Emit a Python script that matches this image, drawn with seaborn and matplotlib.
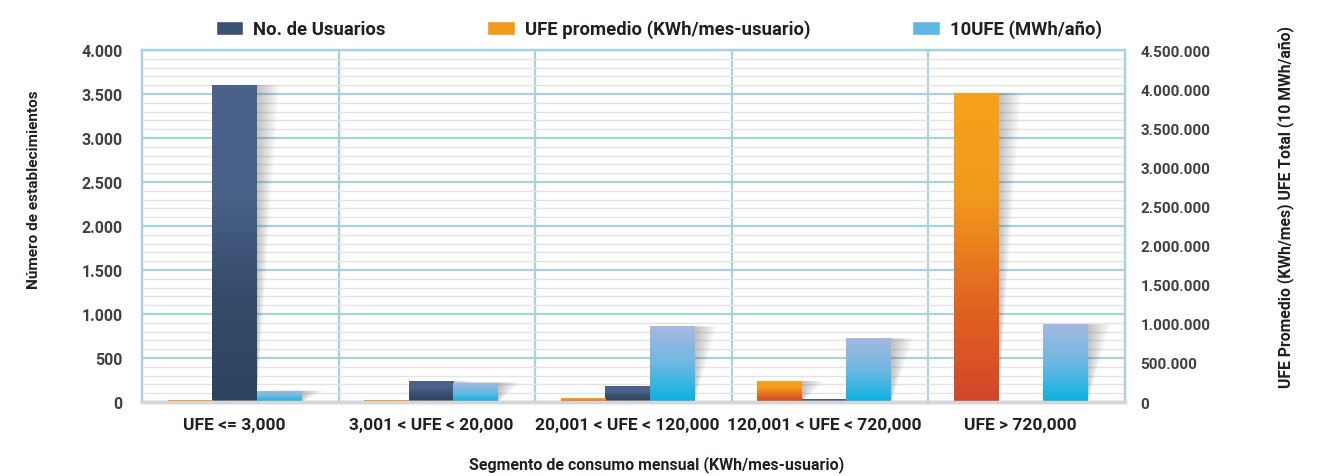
import numpy as np
import pandas as pd
import matplotlib
matplotlib.use("Agg")
import matplotlib.pyplot as plt
import matplotlib.patheffects as pe
from matplotlib.colors import LinearSegmentedColormap, to_rgba
from matplotlib.patches import Patch
from matplotlib.path import Path
from matplotlib.transforms import IdentityTransform
from matplotlib.ticker import MultipleLocator, FixedLocator, FuncFormatter
import seaborn as sns

# Datos
segmentos = ["UFE <= 3,000", "3,001 < UFE < 20,000", "20,001 < UFE < 120,000",
             "120,001 < UFE < 720,000", "UFE > 720,000"]
serie_prom = "UFE promedio (KWh/mes-usuario)"
serie_usu = "No. de Usuarios"
serie_tot = "10UFE (MWh/año)"
orden_barras = [serie_prom, serie_usu, serie_tot]
orden_leyenda = [serie_usu, serie_prom, serie_tot]

usuarios = [3600, 235, 180, 35, 12]                       # eje izquierdo
ufe_promedio = [22000, 24000, 47000, 268000, 3950000]     # eje derecho
ufe_total = [145000, 250000, 968000, 814000, 993000]      # eje derecho

colores = {serie_usu: "#3b5275", serie_prom: "#f39a1d", serie_tot: "#5fb8e4"}
degradados = {serie_usu: ["#2e435e", "#344b6b", "#4a6289", "#4a6289"],
              serie_prom: ["#d2462a", "#e2661f", "#f39a1d", "#f7a11c"],
              serie_tot: ["#08b2e2", "#6db8e2", "#a6b9e0"]}

sns.set_style("white")
plt.rcParams["font.family"] = ["Roboto", "DejaVu Sans"]
plt.rcParams["font.weight"] = "bold"


class SombraInclinada(pe.AbstractPathEffect):
    """Sombra gris que se inclina hacia la derecha desde la base de la barra."""

    def __init__(self, desplazamiento=22, capas=7, alpha=0.055, color="#555555"):
        super().__init__()
        self.desplazamiento = desplazamiento
        self.capas = capas
        self.alpha = alpha
        self.color = color

    def draw_path(self, renderer, gc, tpath, affine, rgbFace=None):
        verts = affine.transform(tpath.vertices)
        y0, y1 = verts[:, 1].min(), verts[:, 1].max()
        alto = max(y1 - y0, 1e-9)
        for i in range(1, self.capas + 1):
            d = self.desplazamiento * i / self.capas
            nv = verts.copy()
            nv[:, 0] += (nv[:, 1] - y0) / alto * d
            gc0 = renderer.new_gc()
            gc0.copy_properties(gc)
            gc0.set_alpha(self.alpha)
            gc0.set_linewidth(0)
            renderer.draw_path(gc0, Path(nv, tpath.codes), IdentityTransform(),
                               to_rgba(self.color))
            gc0.restore()


df_izq = pd.DataFrame({"segmento": segmentos, "serie": serie_usu, "valor": usuarios})
df_der = pd.concat([
    pd.DataFrame({"segmento": segmentos, "serie": serie_prom, "valor": ufe_promedio}),
    pd.DataFrame({"segmento": segmentos, "serie": serie_tot, "valor": ufe_total}),
])

fig = plt.figure(figsize=(13.23, 4.77), dpi=100)
ax = fig.add_axes([0.1073, 0.155, 0.7430, 0.738])

sns.barplot(data=df_izq, x="segmento", y="valor", hue="serie", order=segmentos,
            hue_order=orden_barras, palette=colores, width=0.68, saturation=1,
            dodge=True, errorbar=None, linewidth=0, legend=False, ax=ax)
ax2 = ax.twinx()
sns.barplot(data=df_der, x="segmento", y="valor", hue="serie", order=segmentos,
            hue_order=orden_barras, palette=colores, width=0.68, saturation=1,
            dodge=True, errorbar=None, linewidth=0, legend=False, ax=ax2)


def degradar(eje, barra, lista):
    x0, y0 = barra.get_x(), barra.get_y()
    w, h = barra.get_width(), barra.get_height()
    if not np.isfinite(h) or h <= 0:
        return
    cmap = LinearSegmentedColormap.from_list("g", lista)
    img = eje.imshow(np.linspace(0, 1, 200).reshape(-1, 1),
                     extent=(x0, x0 + w, y0, y0 + h), origin="lower",
                     cmap=cmap, aspect="auto", interpolation="bilinear",
                     zorder=barra.get_zorder() + 0.5)
    img.set_clip_path(barra)
    barra.set_path_effects([SombraInclinada(), pe.Normal()])


for eje in (ax, ax2):
    for barra in list(eje.patches):
        fc = barra.get_facecolor()
        for s, c in colores.items():
            if np.allclose(fc[:3], to_rgba(c)[:3], atol=0.01):
                degradar(eje, barra, degradados[s])

# ejes y rejilla (las barras van un poco a la izquierda del centro de cada segmento)
azul = "#a9d1df"
ax.set_xlim(-0.47, 4.53)
ax.set_ylim(0, 4000)
ax2.set_ylim(0, 4500000)
ax.yaxis.set_major_locator(MultipleLocator(500))
ax.yaxis.set_minor_locator(MultipleLocator(100))
ax2.yaxis.set_major_locator(MultipleLocator(500000))
ax.xaxis.set_minor_locator(FixedLocator([0.53, 1.53, 2.53, 3.53]))
ax.set_axisbelow(True)
ax.grid(which="major", axis="y", color=azul, lw=1.6)
ax.grid(which="minor", axis="y", color="#e3e3e3", lw=1.0)
ax.grid(which="minor", axis="x", color=azul, lw=1.6)
ax.grid(which="major", axis="x", visible=False)

fmt = FuncFormatter(lambda v, p: f"{v:,.0f}".replace(",", "."))
ax.yaxis.set_major_formatter(fmt)
ax2.yaxis.set_major_formatter(fmt)

ax.tick_params(axis="y", which="both", length=0, pad=14, labelsize=11.5, labelcolor="#404040")
ax2.tick_params(axis="y", which="both", length=0, pad=11, labelsize=11, labelcolor="#404040")
ax.tick_params(axis="x", which="both", length=0, pad=11, labelsize=12.5, labelcolor="#231f20")
for t in ax.get_xticklabels() + ax.get_yticklabels() + ax2.get_yticklabels():
    t.set_fontweight("bold")

for eje in (ax, ax2):
    for lado in ["top", "left", "right"]:
        eje.spines[lado].set_color(azul)
        eje.spines[lado].set_linewidth(1.6)
    eje.spines["bottom"].set_color("#d6d6d6")
    eje.spines["bottom"].set_linewidth(2.5)

ax.set_xlabel("Segmento de consumo mensual (KWh/mes-usuario)", fontsize=11.5,
              fontweight="bold", color="#231f20")
ax.xaxis.set_label_coords(0.524, -0.152)
ax.set_ylabel("Número de establecimientos", fontsize=11.1, fontweight="bold", color="#231f20")
ax.yaxis.set_label_coords(-0.1027, 0.605)
ax2.set_ylabel("UFE Promedio (KWh/mes) UFE Total (10 MWh/año)", fontsize=11.3,
               fontweight="bold", color="#231f20")
ax2.yaxis.set_label_coords(1.1546, 0.557)

manijas = [Patch(facecolor=colores[s], label=s) for s in orden_leyenda]
fig.legend(handles=manijas, loc="center", bbox_to_anchor=(0.498, 0.937), ncol=3,
           frameon=False, handlelength=1.5, handleheight=0.8,
           handletextpad=0.55, columnspacing=5.5, labelcolor="#231f20",
           prop={"weight": "bold", "size": 13.3})

fig.savefig("out.png", dpi=100)
